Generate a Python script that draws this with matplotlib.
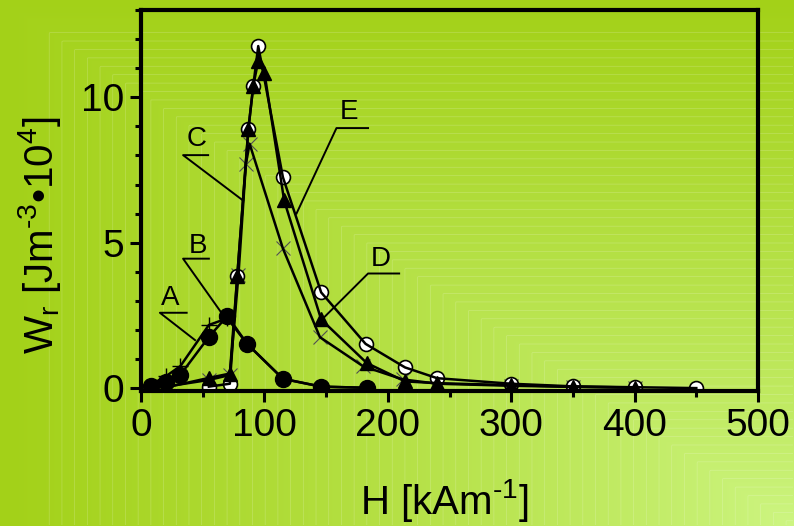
import matplotlib
matplotlib.use('Agg')
import matplotlib.pyplot as plt
import numpy as np
from matplotlib.ticker import MultipleLocator

plt.rcParams['font.family'] = 'Liberation Sans'
plt.rcParams['mathtext.fontset'] = 'custom'
plt.rcParams['mathtext.rm'] = 'Liberation Sans'
plt.rcParams['mathtext.default'] = 'regular'

# data (H in kA/m, Wr in J/m^3 * 1e4)
a_h = [5, 20, 32, 55, 70, 86, 115, 146, 183]
a_w = [0.05, 0.4, 0.76, 2.17, 2.4, 1.52, 0.32, 0.05, 0.01]

b_h = [8, 20, 32, 55, 70, 86, 115, 146, 183]
b_w = [0.08, 0.22, 0.46, 1.76, 2.48, 1.52, 0.32, 0.05, 0.01]

c_h = [20, 55, 72, 79, 85, 88, 115, 145, 180, 212, 240, 300, 350, 400]
c_w = [0.05, 0.28, 0.45, 3.9, 7.7, 8.4, 4.8, 1.75, 0.75, 0.3, 0.15, 0.08, 0.04, 0.01]

d_h = [20, 55, 72, 78, 87, 91, 95, 100, 116, 146, 183, 214, 240, 300, 350, 400]
d_w = [0.02, 0.35, 0.5, 3.85, 8.9, 10.4, 11.25, 10.85, 6.45, 2.36, 0.86, 0.23, 0.17, 0.1, 0.05, 0.02]

e_h = [55, 72, 78, 87, 91, 95, 115, 146, 182, 214, 240, 300, 350, 400, 450]
e_w = [0.05, 0.15, 3.85, 8.9, 10.4, 11.76, 7.25, 3.29, 1.52, 0.71, 0.34, 0.15, 0.06, 0.03, 0.0]

# curve labels: text pos, underline start/end, leader end
labels = ['A', 'B', 'C', 'D', 'E']
lab_txt = [(23.4, 3.09), (46.3, 4.9), (45, 8.56), (194, 4.45), (168.6, 9.5)]
lab_ul = [(15.3, 37), (34.1, 55), (34.1, 54.4), (184, 209.2), (158.4, 184)]
lab_ul_y = [2.59, 4.45, 8.01, 3.94, 8.94]
lab_end = [(43.8, 1.65), (66.5, 2.51), (82.7, 6.45), (147.6, 2.4), (126, 6.0)]

fig = plt.figure(figsize=(7.94, 5.26), dpi=100)

# green gradient background, squares centred on the lower right corner
bg = fig.add_axes([0, 0, 1, 1], zorder=-10)
yy, xx = np.mgrid[0:526, 0:794]
t = np.maximum((794 - xx) / 794, (526 - yy) / 526)
dark = np.array([163, 209, 24]) / 255
light = np.array([206, 246, 132]) / 255
img = light + (dark - light) * t[..., None] ** 0.8
bg.imshow(img, aspect='auto', extent=[0, 794, 526, 0])
# faint lighter stripes like the original
bg.contour(xx, yy, t, levels=np.arange(0.01, 0.95, 0.016), colors='white',
           linewidths=0.5, alpha=0.22)
bg.set_xlim(0, 794)
bg.set_ylim(526, 0)
bg.axis('off')

ax = fig.add_axes([141 / 794, 1 - 391 / 526, 617 / 794, 381 / 526])
ax.patch.set_alpha(0)

lw = 1.8
for h, w in [(a_h, a_w), (b_h, b_w), (c_h, c_w), (d_h, d_w), (e_h, e_w)]:
    ax.plot(h, w, color='black', lw=lw, zorder=3)

ax.plot(c_h, c_w, ls='none', marker='x', ms=10, mew=0.8, color='#505050', zorder=2)
ax.plot(e_h, e_w, ls='none', marker='o', ms=10, mfc='white', mec='black', mew=1.2, zorder=2.5)
ax.plot(d_h, d_w, ls='none', marker='^', ms=10.5, color='black', zorder=4)
ax.plot(a_h, a_w, ls='none', marker='+', ms=12, mew=1.0, color='black', zorder=2)
ax.plot(b_h, b_w, ls='none', marker='o', ms=11.5, color='black', zorder=4)

for lab, (tx, ty), (u0, u1), uy, (ex, ey) in zip(labels, lab_txt, lab_ul, lab_ul_y, lab_end):
    ax.text(tx, ty, lab, fontsize=20, ha='center', va='center')
    ax.plot([u1, u0, ex], [uy, uy, ey], color='black', lw=1.4, zorder=3)

ax.set_xlim(0, 500)
ax.set_ylim(-0.1, 13)
ax.xaxis.set_major_locator(MultipleLocator(100))
ax.xaxis.set_minor_locator(MultipleLocator(50))
ax.yaxis.set_major_locator(MultipleLocator(5))
ax.yaxis.set_minor_locator(MultipleLocator(1))
ax.tick_params(which='major', direction='out', length=8, width=2.2, labelsize=28, pad=4)
ax.tick_params(which='minor', direction='out', length=4.5, width=2.2)
for s in ax.spines.values():
    s.set_linewidth(3)

fig.text(444 / 794, 1 - 500 / 526, r'H [kAm$^{\text{-1}}$]', fontsize=29, ha='center', va='center')
fig.text(40 / 794, 1 - 235 / 526, r'W$_{r}$ [Jm$^{\text{-3}}$•10$^{4}$]', fontsize=29,
         rotation=90, ha='center', va='center')

fig.savefig('out.png', dpi=100)
